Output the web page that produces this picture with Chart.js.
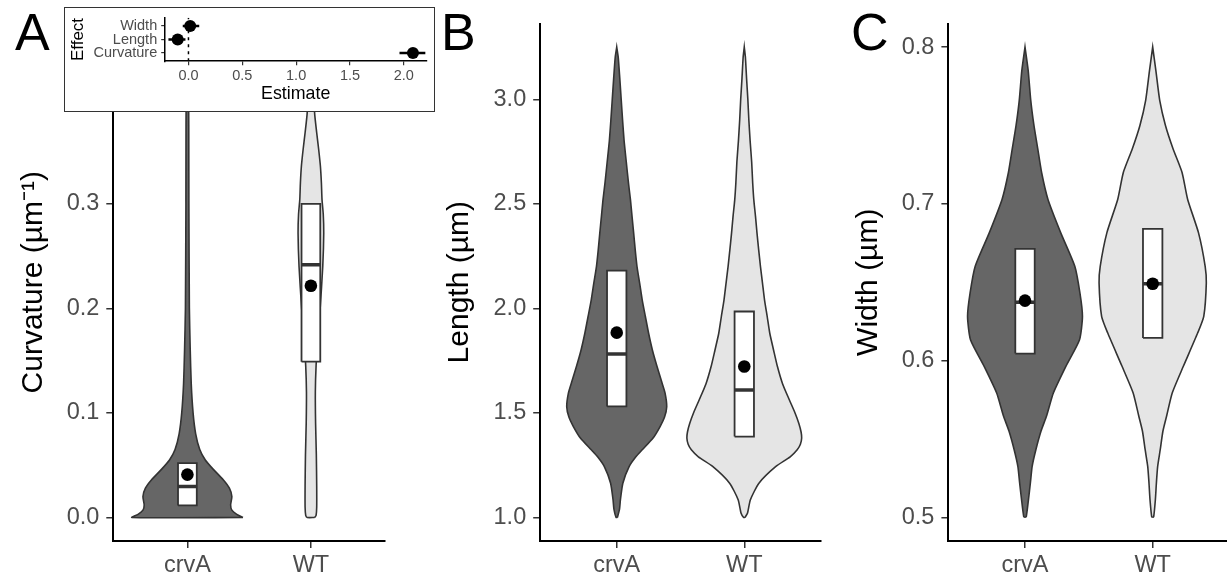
<!DOCTYPE html>
<html>
<head>
<meta charset="utf-8">
<script src="https://cdn.jsdelivr.net/npm/chart.js@4.4.1/dist/chart.umd.min.js"></script>
<style>
  html, body { margin: 0; padding: 0; background: #fff; }
  body { width: 1227px; height: 580px; position: relative; overflow: hidden; font-family: 'Liberation Sans', Arial, sans-serif; }
  .panel { position: absolute; top: 0; height: 580px; }
  .letter { position: absolute; top: 6px; font-size: 52px; line-height: 52px; color: #000; }
  #inset { position: absolute; left: 64px; top: 7px; width: 369px; height: 103px; border: 1.5px solid #333; background: #fff; }
</style>
</head>
<body>
<div class="panel" style="left:0;width:400px"><canvas id="chartA"></canvas></div>
<div class="panel" style="left:400px;width:425px"><canvas id="chartB"></canvas></div>
<div class="panel" style="left:830px;width:397px"><canvas id="chartC"></canvas></div>
<div id="inset"><canvas id="chartInset"></canvas></div>
<div class="letter" style="left:15px">A</div>
<div class="letter" style="left:441px">B</div>
<div class="letter" style="left:851px">C</div>

<script>
// groups on the x axis
const groups = ['crvA', 'WT'];
const groupPos = [1, 2];

// Panel A - curvature violins (level, half width in group units)
const curvTicks = [0.0, 0.1, 0.2, 0.3];
const curvCrvaLevels = [0, 0.003, 0.007, 0.012, 0.02, 0.028, 0.036, 0.046, 0.055, 0.065, 0.08, 0.1, 0.128, 0.16, 0.2, 0.3, 0.45];
const curvCrvaWidths = [0.45, 0.40, 0.36, 0.35, 0.36, 0.34, 0.29, 0.21, 0.145, 0.10, 0.067, 0.046, 0.031, 0.023, 0.016, 0.012, 0.008];
const curvWtLevels = [0, 0.002, 0.01, 0.03, 0.06, 0.09, 0.12, 0.145, 0.17, 0.2, 0.24, 0.272, 0.29, 0.304, 0.32, 0.336, 0.352, 0.368, 0.387, 0.41, 0.43, 0.45];
const curvWtWidths = [0.03, 0.042, 0.047, 0.047, 0.044, 0.038, 0.036, 0.042, 0.055, 0.075, 0.096, 0.104, 0.1, 0.09, 0.085, 0.077, 0.063, 0.047, 0.03, 0.028, 0.02, 0.006];
const curvQ1 = [0.0115, 0.149];
const curvMedian = [0.0297, 0.2417];
const curvQ3 = [0.052, 0.300];
const curvMean = [0.041, 0.2216];

// Panel B - length
const lenTicks = [1.0, 1.5, 2.0, 2.5, 3.0];
const lenCrvaLevels = [1.0, 1.04, 1.085, 1.164, 1.244, 1.29, 1.3236, 1.38, 1.435, 1.48, 1.53, 1.595, 1.65, 1.722, 1.8, 1.881, 1.96, 2.04, 2.12, 2.2, 2.28, 2.359, 2.44, 2.518, 2.6, 2.7, 2.8, 2.9, 3.0, 3.1, 3.2, 3.25];
const lenCrvaWidths = [0.005, 0.022, 0.029, 0.048, 0.098, 0.15, 0.20, 0.285, 0.34, 0.375, 0.392, 0.379, 0.352, 0.316, 0.28, 0.25, 0.225, 0.2, 0.18, 0.159, 0.145, 0.133, 0.12, 0.108, 0.092, 0.075, 0.058, 0.046, 0.035, 0.024, 0.012, 0.0];
const lenWtLevels = [1.0, 1.02, 1.085, 1.164, 1.244, 1.29, 1.3236, 1.35, 1.38, 1.41, 1.45, 1.5, 1.563, 1.64, 1.722, 1.8, 1.881, 1.96, 2.04, 2.12, 2.2, 2.28, 2.359, 2.44, 2.518, 2.6, 2.7, 2.8, 2.9, 3.0, 3.1, 3.2, 3.25];
const lenWtWidths = [0.005, 0.025, 0.048, 0.115, 0.248, 0.36, 0.415, 0.44, 0.45, 0.445, 0.428, 0.398, 0.353, 0.3, 0.26, 0.23, 0.2, 0.18, 0.159, 0.143, 0.127, 0.113, 0.1, 0.088, 0.075, 0.066, 0.058, 0.046, 0.036, 0.028, 0.018, 0.009, 0.0];
const lenQ1 = [1.531, 1.387];
const lenMedian = [1.782, 1.610];
const lenQ3 = [2.181, 1.985];
const lenMean = [1.884, 1.722];

// Panel C - width
const widTicks = [0.5, 0.6, 0.7, 0.8];
const widCrvaLevels = [0.5, 0.5006, 0.5113, 0.522, 0.5326, 0.5432, 0.555, 0.565, 0.5794, 0.5964, 0.6134, 0.6283, 0.6432, 0.6602, 0.6815, 0.7028, 0.72, 0.735, 0.75, 0.766, 0.785, 0.8];
const widCrvaWidths = [0.0, 0.01, 0.027, 0.042, 0.056, 0.085, 0.125, 0.17, 0.222, 0.32, 0.427, 0.45, 0.43, 0.39, 0.28, 0.18, 0.13, 0.1, 0.07, 0.045, 0.025, 0.0];
const widWtLevels = [0.5, 0.5006, 0.5113, 0.522, 0.5326, 0.5432, 0.555, 0.565, 0.5794, 0.5964, 0.6176, 0.6283, 0.6496, 0.6602, 0.6815, 0.7028, 0.72, 0.735, 0.75, 0.766, 0.785, 0.8];
const widWtWidths = [0.0, 0.008, 0.021, 0.029, 0.039, 0.059, 0.08, 0.11, 0.153, 0.24, 0.352, 0.4, 0.42, 0.411, 0.359, 0.274, 0.23, 0.16, 0.1, 0.055, 0.025, 0.0];
const widQ1 = [0.6045, 0.6145];
const widMedian = [0.6372, 0.649];
const widQ3 = [0.6713, 0.6841];
const widMean = [0.6383, 0.649];

// Inset - model estimates
const effects = ['Curvature', 'Length', 'Width'];
const estimate = [2.085, -0.100, 0.016];
const estLow = [1.96, -0.186, -0.053];
const estHigh = [2.20, -0.028, 0.100];
const estTicks = [0.0, 0.5, 1.0, 1.5, 2.0];
const refLine = 0;

Chart.defaults.font.family = "'Liberation Sans', Arial, sans-serif";

const fills = ['#666666', '#e5e5e5'];
const boxHalf = 0.076;

function violinOutline(pos, levels, widths) {
    const right = levels.map((v, i) => ({ x: pos + widths[i], y: v }));
    const left = levels.map((v, i) => ({ x: pos - widths[i], y: v })).reverse();
    return right.concat(left, [right[0]]);
}

function boxOutline(pos, lo, hi) {
    return [
        { x: pos - boxHalf, y: lo }, { x: pos + boxHalf, y: lo },
        { x: pos + boxHalf, y: hi }, { x: pos - boxHalf, y: hi },
        { x: pos - boxHalf, y: lo }
    ];
}

function panelDatasets(violins, q1, med, q3, mean) {
    const ds = [];
    violins.forEach((v, i) => ds.push({
        data: violinOutline(groupPos[i], v[0], v[1]),
        showLine: true, fill: 'shape', backgroundColor: fills[i],
        borderColor: '#333', borderWidth: 1.6, pointRadius: 0, tension: 0.2, order: 4
    }));
    groupPos.forEach((p, i) => {
        ds.push({
            data: boxOutline(p, q1[i], q3[i]),
            showLine: true, fill: 'shape', backgroundColor: '#fff',
            borderColor: '#333', borderWidth: 1.8, borderJoinStyle: 'miter', pointRadius: 0, tension: 0, order: 3
        });
        ds.push({
            data: [{ x: p - boxHalf, y: med[i] }, { x: p + boxHalf, y: med[i] }],
            showLine: true, borderColor: '#333', borderWidth: 3.5, pointRadius: 0, order: 2
        });
    });
    ds.push({
        data: mean.map((m, i) => ({ x: groupPos[i], y: m })),
        showLine: false, pointRadius: 6.3, pointBackgroundColor: '#000', pointBorderWidth: 0, order: 1
    });
    return ds;
}

function zeroPad(s) {
    s.paddingTop = 0; s.paddingBottom = 0; s.paddingLeft = 0; s.paddingRight = 0;
}

const axisGrid = { drawOnChartArea: false, drawTicks: true, tickLength: 7, color: '#333', lineWidth: 1.5 };
const axisBorder = { display: true, color: '#000', width: 2 };

function panelOptions(p) {
    return {
        responsive: true, maintainAspectRatio: false, animation: false, devicePixelRatio: 1, events: [],
        layout: { autoPadding: false, padding: { top: 23.5, right: p.padRight, left: 0, bottom: 0 } },
        plugins: { legend: { display: false }, tooltip: { enabled: false } },
        scales: {
            x: {
                type: 'linear', min: 0.4, max: p.xMax,
                afterBuildTicks: s => { s.ticks = groupPos.map(v => ({ value: v })); },
                afterFit: s => { s.height = 39; zeroPad(s); },
                ticks: { callback: (v, i) => groups[i], color: '#4d4d4d', font: { size: 23.5 }, padding: 3, maxRotation: 0, autoSkip: false },
                grid: axisGrid, border: axisBorder
            },
            y: {
                type: 'linear', min: p.yMin, max: p.yMax,
                afterBuildTicks: s => { s.ticks = p.ticks.map(v => ({ value: v })); },
                afterFit: s => { s.width = p.yWidth; zeroPad(s); },
                ticks: { callback: v => v.toFixed(1), color: '#4d4d4d', font: { size: 23.5 }, padding: 7 },
                grid: axisGrid, border: axisBorder,
                title: { display: true, text: p.title, color: '#000', font: { size: 30 }, padding: { top: p.titlePad, bottom: 0 } }
            }
        }
    };
}

new Chart(document.getElementById('chartA'), {
    type: 'scatter',
    data: { datasets: panelDatasets([[curvCrvaLevels, curvCrvaWidths], [curvWtLevels, curvWtWidths]], curvQ1, curvMedian, curvQ3, curvMean) },
    options: panelOptions({ xMax: 2.6, padRight: 15, yMin: -0.0225, yMax: 0.4725, ticks: curvTicks, yWidth: 113.3, title: 'Curvature (\u00b5m\u207b\u00b9)', titlePad: 16 })
});

new Chart(document.getElementById('chartB'), {
    type: 'scatter',
    data: { datasets: panelDatasets([[lenCrvaLevels, lenCrvaWidths], [lenWtLevels, lenWtWidths]], lenQ1, lenMedian, lenQ3, lenMean) },
    options: panelOptions({ xMax: 2.6, padRight: 4.2, yMin: 0.8875, yMax: 3.3625, ticks: lenTicks, yWidth: 140.2, title: 'Length (\u00b5m)', titlePad: 42 })
});

new Chart(document.getElementById('chartC'), {
    type: 'scatter',
    data: { datasets: panelDatasets([[widCrvaLevels, widCrvaWidths], [widWtLevels, widWtWidths]], widQ1, widMedian, widQ3, widMean) },
    options: panelOptions({ xMax: 2.582, padRight: 0, yMin: 0.485, yMax: 0.815, ticks: widTicks, yWidth: 118.4, title: 'Width (\u00b5m)', titlePad: 21 })
});

// inset: point estimates with intervals
const effectPos = effects.map((e, i) => i + 1);
const insetDatasets = [{
    data: [{ x: refLine, y: 0.4 }, { x: refLine, y: 3.6 }],
    showLine: true, borderColor: '#000', borderWidth: 1.5, borderDash: [3, 4], pointRadius: 0, order: 3
}];
effects.forEach((e, i) => insetDatasets.push({
    data: [{ x: estLow[i], y: effectPos[i] }, { x: estHigh[i], y: effectPos[i] }],
    showLine: true, borderColor: '#000', borderWidth: 2.5, pointRadius: 0, order: 2
}));
insetDatasets.push({
    data: estimate.map((v, i) => ({ x: v, y: effectPos[i] })),
    showLine: false, pointRadius: 6, pointBackgroundColor: '#000', pointBorderWidth: 0, order: 1
});

const insetGrid = { drawOnChartArea: false, drawTicks: true, tickLength: 4, color: '#333', lineWidth: 1.2 };
const insetBorder = { display: true, color: '#000', width: 1.5 };

new Chart(document.getElementById('chartInset'), {
    type: 'scatter',
    data: { datasets: insetDatasets },
    options: {
        responsive: true, maintainAspectRatio: false, animation: false, devicePixelRatio: 1, events: [],
        layout: { autoPadding: false, padding: { top: 9.8, right: 7.8, left: 0, bottom: 0 } },
        plugins: { legend: { display: false }, tooltip: { enabled: false } },
        scales: {
            x: {
                type: 'linear', min: -0.216, max: 2.208,
                afterBuildTicks: s => { s.ticks = estTicks.map(v => ({ value: v })); },
                afterFit: s => { s.height = 49.8; zeroPad(s); },
                ticks: { callback: v => v.toFixed(1), color: '#4d4d4d', font: { size: 14.5 }, padding: 2, maxRotation: 0, autoSkip: false },
                grid: insetGrid, border: insetBorder,
                title: { display: true, text: 'Estimate', color: '#000', font: { size: 17.8 }, padding: { top: 0, bottom: 6.5 } }
            },
            y: {
                type: 'linear', min: 0.4, max: 3.6,
                afterBuildTicks: s => { s.ticks = effectPos.map(v => ({ value: v })); },
                afterFit: s => { s.width = 100.2; zeroPad(s); },
                ticks: { callback: (v, i) => effects[i], color: '#4d4d4d', font: { size: 14.5 }, padding: 4 },
                grid: insetGrid, border: insetBorder,
                title: { display: true, text: 'Effect', color: '#000', font: { size: 17 }, padding: { top: 3.6, bottom: 0 } }
            }
        }
    }
});
</script>
</body>
</html>
